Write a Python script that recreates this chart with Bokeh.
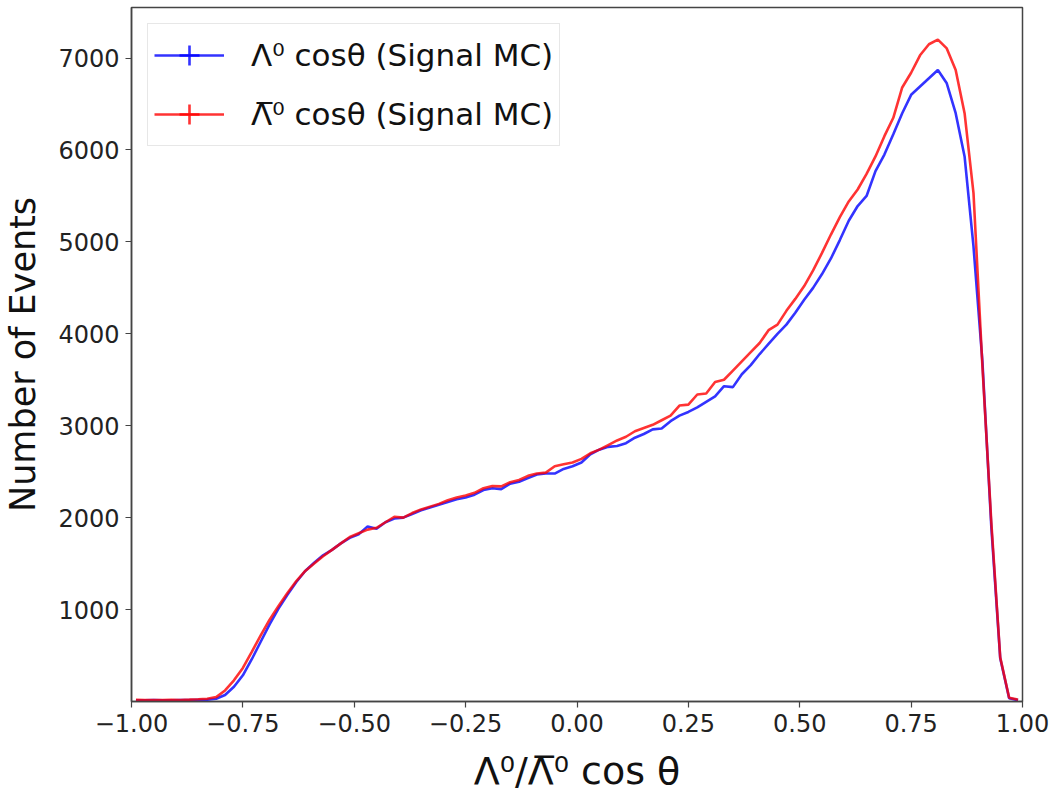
import numpy as np
from bokeh.plotting import figure
from bokeh.models import (ColumnDataSource, Legend, LegendItem, FixedTicker, Range1d)
from bokeh.embed import file_html
from bokeh.resources import INLINE

# ---- data (100 bins of width 0.02 over [-1, 1]) ----
bin_edges = np.linspace(-1.0, 1.0, 101)
bin_centers = 0.5 * (bin_edges[:-1] + bin_edges[1:])

lambda_counts = [
    14, 12, 15, 13, 14, 15, 16, 18, 20, 30,
    70, 160, 285, 460, 650, 840, 1010, 1160, 1300, 1420,
    1510, 1590, 1650, 1720, 1780, 1820, 1905, 1880, 1950, 1990,
    2000, 2040, 2080, 2110, 2140, 2170, 2200, 2220, 2250, 2300,
    2320, 2310, 2370, 2390, 2430, 2470, 2480, 2480, 2530, 2560,
    2600, 2690, 2740, 2770, 2780, 2810, 2870, 2910, 2960, 2970,
    3050, 3110, 3150, 3200, 3260, 3320, 3430, 3420, 3560, 3660,
    3780, 3890, 4000, 4100, 4230, 4370, 4500, 4650, 4820, 5020,
    5230, 5390, 5500, 5770, 5950, 6170, 6400, 6600, 6690, 6780,
    6870, 6725, 6400, 5930, 4950, 3700, 1900, 470, 35, 15,
]

lambdabar_counts = [
    18, 16, 17, 15, 19, 17, 20, 24, 30, 48,
    120, 230, 365, 540, 720, 890, 1040, 1180, 1310, 1420,
    1500, 1580, 1650, 1720, 1790, 1830, 1870, 1890, 1950, 2010,
    2000, 2050, 2090, 2120, 2150, 2190, 2220, 2240, 2270, 2320,
    2345, 2340, 2385, 2410, 2455, 2480, 2490, 2560, 2580, 2600,
    2640, 2700, 2740, 2790, 2840, 2880, 2940, 2975, 3010, 3060,
    3110, 3220, 3230, 3340, 3350, 3475, 3500, 3600, 3700, 3800,
    3900, 4040, 4100, 4250, 4380, 4520, 4690, 4880, 5080, 5270,
    5440, 5570, 5740, 5930, 6150, 6350, 6680, 6840, 7030, 7150,
    7200, 7105, 6870, 6400, 5530, 3650, 1950, 480, 40, 20,
]

series_labels = ["\u039b\u2070 cos\u03b8 (Signal MC)", "\u039b\u0305\u2070 cos\u03b8 (Signal MC)"]
x_ticks = [-1.0, -0.75, -0.5, -0.25, 0.0, 0.25, 0.5, 0.75, 1.0]
y_ticks = [1000, 2000, 3000, 4000, 5000, 6000, 7000]
x_label = "\u039b\u2070/\u039b\u0305\u2070 cos \u03b8"
y_label = "Number of Events"

src = ColumnDataSource(dict(x=bin_centers, lam=lambda_counts, lbar=lambdabar_counts))

W, H = 1057, 799
p = figure(width=W, height=H, output_backend="svg", toolbar_location=None,
           x_range=Range1d(-1.0, 1.0), y_range=Range1d(0, 7550))
p.min_border_left = 131
p.min_border_right = 35
p.min_border_top = 7
p.min_border_bottom = 98
p.background_fill_color = "white"
p.border_fill_color = "white"
p.xgrid.visible = False
p.ygrid.visible = False
p.outline_line_color = "#444444"
p.outline_line_width = 1.5

blue = "#0000ff"
red = "#ff0000"

r_blue = p.line("x", "lam", source=src, line_color=blue, line_alpha=0.8, line_width=2.6)
# zero-size markers: invisible on the plot, they only provide the "+" errorbar glyph in the legend
s_blue = p.scatter("x", "lam", source=src, marker="cross", size=0,
                   line_color=blue, line_alpha=0.8, line_width=2.6)
r_red = p.line("x", "lbar", source=src, line_color=red, line_alpha=0.8, line_width=2.6)
s_red = p.scatter("x", "lbar", source=src, marker="cross", size=0,
                  line_color=red, line_alpha=0.8, line_width=2.6)

# axes
for ax in (p.xaxis[0], p.yaxis[0]):
    ax.axis_line_color = "#444444"
    ax.axis_line_width = 1.5
    ax.major_tick_line_color = "#444444"
    ax.major_tick_line_width = 1.2
    ax.major_tick_out = 6
    ax.major_tick_in = 0
    ax.minor_tick_line_color = None
    ax.major_label_text_font = "DejaVu Sans"
    ax.major_label_text_font_size = "24px"
    ax.major_label_text_color = "#222222"
    ax.axis_label_text_font = "DejaVu Sans"
    ax.axis_label_text_font_style = "normal"
    ax.axis_label_text_color = "#111111"

p.xaxis.ticker = FixedTicker(ticks=x_ticks)
p.xaxis.major_label_overrides = {t: ("\u2212" if t < 0 else "") + f"{abs(t):.2f}" for t in x_ticks}
p.xaxis.major_label_standoff = 6
p.xaxis.axis_label = x_label
p.xaxis.axis_label_text_font_size = "38px"
p.xaxis.axis_label_standoff = 14

p.yaxis.ticker = FixedTicker(ticks=y_ticks)
p.yaxis.major_label_overrides = {t: str(t) for t in y_ticks}
p.yaxis.major_label_standoff = 6
p.yaxis.axis_label = y_label
p.yaxis.axis_label_text_font_size = "35px"
p.yaxis.axis_label_standoff = 12

legend = Legend(items=[
    LegendItem(label=series_labels[0], renderers=[r_blue, s_blue]),
    LegendItem(label=series_labels[1], renderers=[r_red, s_red]),
], location="top_left")
legend.margin = 16
legend.padding = 6
legend.spacing = 9
legend.glyph_width = 70
legend.glyph_height = 50
legend.label_height = 50
legend.label_standoff = 27
legend.label_text_font = "DejaVu Sans"
legend.label_text_font_size = "31px"
legend.label_text_color = "#111111"
legend.border_line_color = "#d0d0d0"
legend.border_line_width = 1.2
legend.background_fill_alpha = 0.8
p.add_layout(legend)

open("out.html", "w").write(file_html(p, INLINE))
